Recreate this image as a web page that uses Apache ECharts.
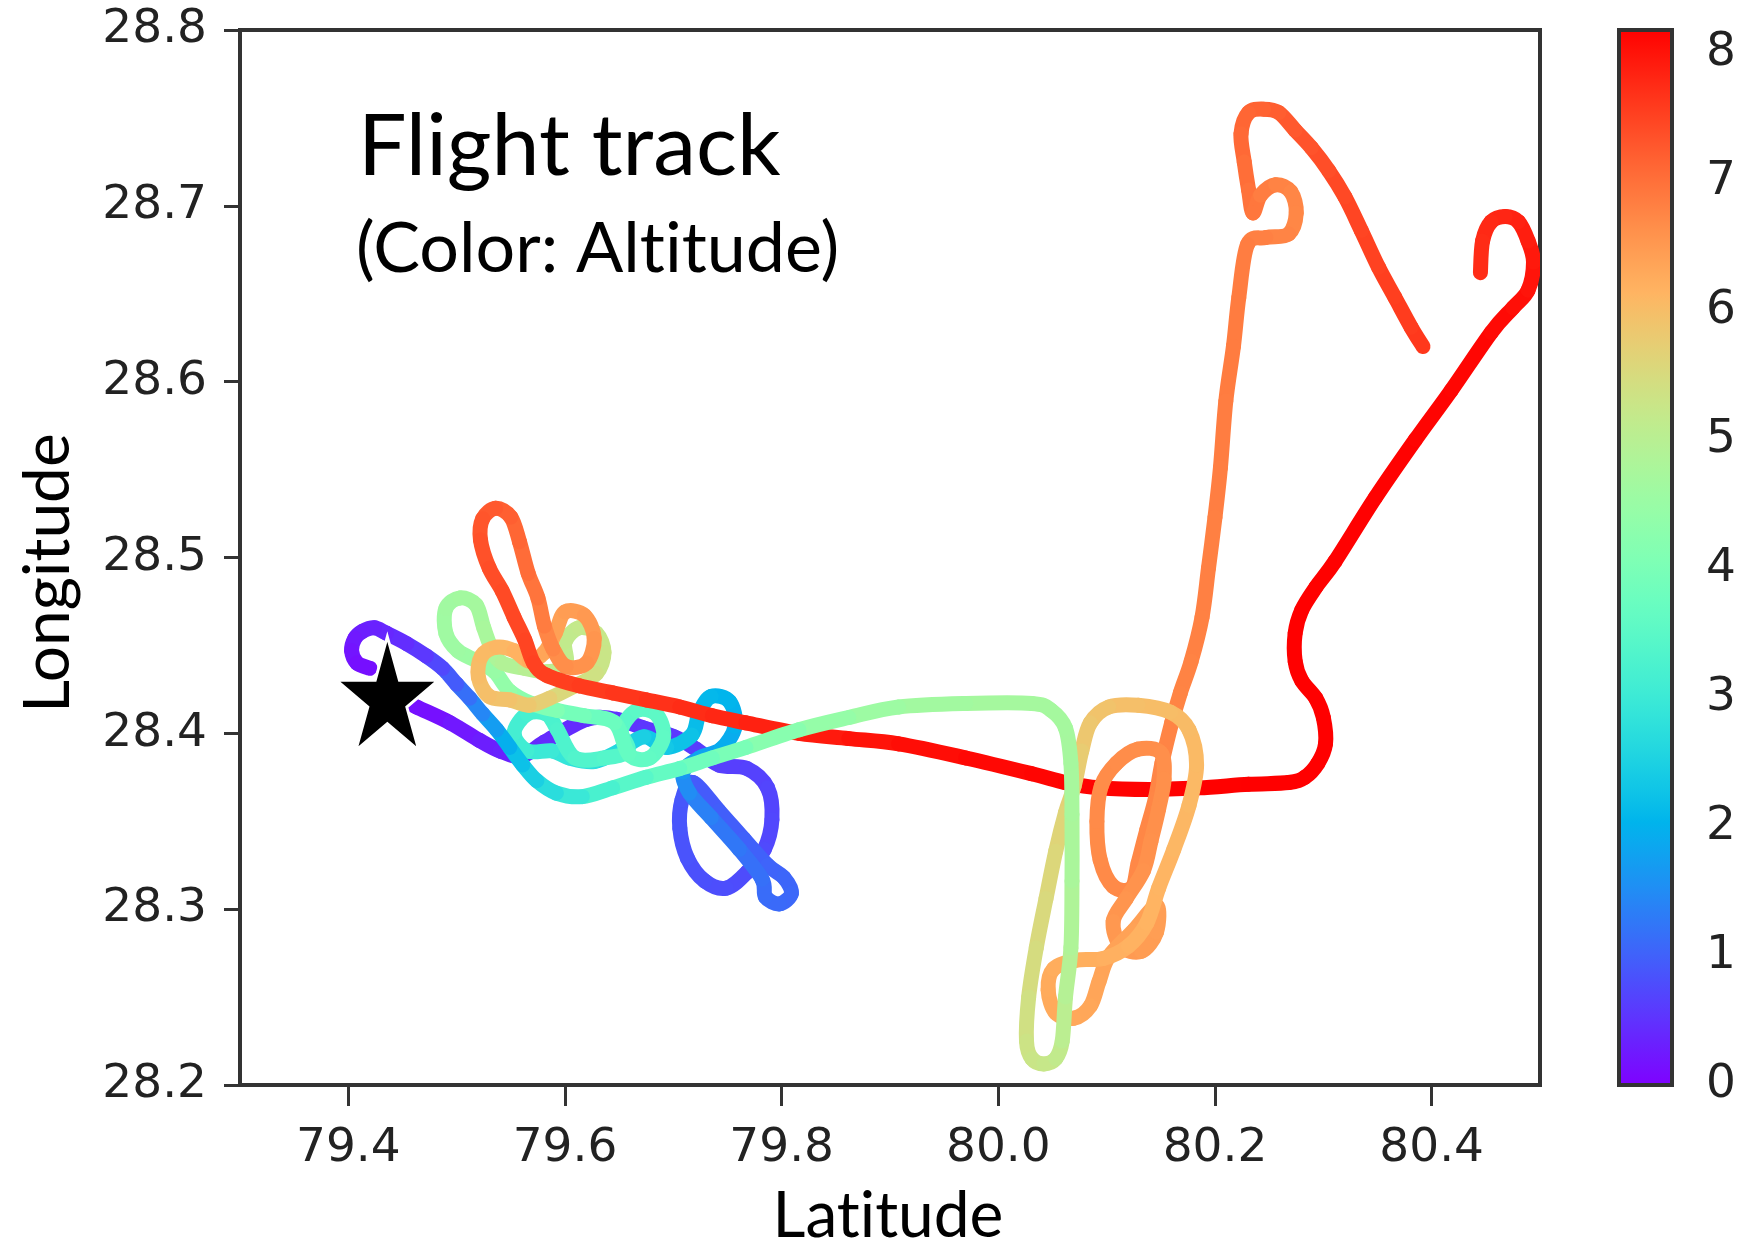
<!DOCTYPE html>
<html>
<head>
<meta charset="utf-8">
<script src="https://cdn.jsdelivr.net/npm/echarts@6/dist/echarts.min.js"></script>
<style>
  html, body { margin: 0; padding: 0; background: #ffffff; }
  #chart { width: 1744px; height: 1244px; }
</style>
</head>
<body>
<div id="chart"></div>
<script>
// Outbound leg: takeoff, low loops, climbing spirals, eastbound leg at top altitude
const outLon = [79.443,79.463,79.494,79.521,79.540,79.560,79.581,79.620,79.647,79.673,
  79.701,79.721,79.742,79.768,79.787,79.791,79.784,79.768,79.749,79.729,
  79.713,79.706,79.708,79.718,79.742,79.765,79.787,79.802,79.809,79.798,
  79.785,79.782,79.761,79.735,79.715,79.709,79.724,79.744,79.757,79.752,
  79.735,79.724,79.717,79.694,79.673,79.650,79.627,79.604,79.588,79.565,
  79.553,79.565,79.583,79.593,79.609,79.636,79.658,79.652,79.666,79.684,
  79.691,79.678,79.659,79.646,79.618,79.593,79.569,79.549,79.535,79.519,
  79.501,79.490,79.490,79.503,79.518,79.525,79.533,79.542,79.563,79.584,
  79.601,79.600,79.613,79.629,79.636,79.629,79.609,79.586,79.567,79.549,
  79.530,79.520,79.523,79.537,79.553,79.567,79.581,79.591,79.600,79.618,
  79.627,79.620,79.601,79.589,79.581,79.575,79.566,79.558,79.550,79.536,
  79.524,79.522,79.530,79.542,79.553,79.563,79.571,79.583,79.613,79.644,
  79.675,79.706,79.736,79.767,79.816,79.862,79.908,79.970,80.031,80.062,
  80.093,80.139,80.185,80.231,80.268,80.283,80.295,80.302,80.300,80.293,
  80.280,80.274,80.274,80.280,80.293,80.311,80.348,80.385,80.418,80.455,
  80.475,80.489,80.494,80.489,80.480,80.468,80.455,80.447,80.445];
const outLat = [28.421,28.415,28.406,28.396,28.390,28.387,28.395,28.408,28.408,28.403,
  28.398,28.391,28.382,28.380,28.369,28.351,28.334,28.321,28.312,28.316,
  28.329,28.346,28.362,28.372,28.356,28.340,28.325,28.318,28.309,28.303,
  28.307,28.317,28.334,28.352,28.366,28.378,28.386,28.391,28.404,28.418,
  28.421,28.412,28.399,28.392,28.398,28.390,28.384,28.386,28.390,28.390,
  28.400,28.411,28.411,28.402,28.386,28.386,28.390,28.402,28.413,28.411,
  28.398,28.386,28.388,28.406,28.410,28.413,28.417,28.424,28.435,28.441,
  28.447,28.457,28.471,28.477,28.473,28.460,28.447,28.440,28.437,28.435,
  28.439,28.452,28.460,28.457,28.446,28.434,28.427,28.420,28.416,28.419,
  28.421,28.432,28.444,28.449,28.447,28.441,28.446,28.457,28.469,28.467,
  28.454,28.440,28.438,28.448,28.461,28.477,28.491,28.509,28.523,28.528,
  28.522,28.510,28.494,28.481,28.466,28.453,28.440,28.433,28.427,28.423,
  28.419,28.415,28.410,28.406,28.400,28.397,28.394,28.386,28.377,28.372,
  28.369,28.368,28.369,28.371,28.372,28.375,28.383,28.394,28.409,28.420,
  28.430,28.441,28.457,28.470,28.483,28.498,28.534,28.567,28.595,28.628,
  28.642,28.652,28.668,28.680,28.691,28.694,28.691,28.680,28.662];
const outAlt = [0.05,0.12,0.20,0.28,0.33,0.38,0.42,0.47,0.50,0.53,
  0.57,0.60,0.63,0.66,0.70,0.72,0.75,0.78,0.80,0.82,
  0.85,0.87,0.90,0.92,0.97,1.00,1.03,1.06,1.08,1.10,
  1.12,1.15,1.22,1.32,1.45,1.60,1.75,1.88,1.97,2.03,
  2.08,2.13,2.20,2.30,2.40,2.55,2.70,2.85,2.95,3.05,
  3.12,3.18,3.23,3.28,3.33,3.38,3.43,3.47,3.50,3.53,
  3.56,3.60,3.63,3.70,3.85,4.00,4.20,4.35,4.45,4.52,
  4.57,4.60,4.62,4.65,4.68,4.72,4.78,4.85,4.95,5.05,
  5.10,5.13,5.17,5.20,5.25,5.30,5.45,5.65,5.80,5.90,
  5.95,6.00,6.03,6.07,6.12,6.20,6.30,6.38,6.43,6.48,
  6.53,6.58,6.62,6.68,6.80,6.90,7.00,7.08,7.15,7.22,
  7.28,7.32,7.36,7.40,7.43,7.46,7.49,7.52,7.55,7.60,
  7.65,7.70,7.75,7.80,7.88,7.95,8.02,8.08,8.12,8.14,
  8.15,8.16,8.17,8.17,8.18,8.18,8.18,8.18,8.18,8.18,
  8.18,8.18,8.18,8.18,8.17,8.17,8.16,8.15,8.13,8.10,
  8.05,8.00,7.95,7.90,7.85,7.80,7.77,7.74,7.72];

// Return leg: descent from the north-east back to the airfield
const retLon = [80.392,80.381,80.366,80.351,80.335,80.320,80.305,80.289,80.274,80.259,
  80.245,80.231,80.224,80.227,80.231,80.235,80.242,80.256,80.270,80.275,
  80.268,80.247,80.230,80.222,80.217,80.210,80.205,80.200,80.194,80.188,
  80.178,80.168,80.160,80.151,80.145,80.137,80.129,80.123,80.106,80.094,
  80.091,80.095,80.109,80.129,80.150,80.153,80.148,80.141,80.134,80.118,
  80.106,80.113,80.132,80.146,80.146,80.125,80.102,80.093,80.085,80.070,
  80.053,80.046,80.051,80.072,80.097,80.120,80.137,80.148,80.162,80.176,
  80.183,80.176,80.159,80.129,80.102,80.085,80.077,80.070,80.062,80.053,
  80.044,80.035,80.028,80.026,80.031,80.042,80.053,80.059,80.062,80.067,
  80.068,80.068,80.067,80.062,80.049,80.031,79.970,79.908,79.862,79.816,
  79.767,79.736,79.706,79.675,79.644,79.616,79.592,79.574,79.561,79.549,
  79.537,79.524,79.512,79.500,79.487,79.472,79.454,79.435,79.424,79.413,
  79.406,79.403,79.408,79.420];
const retLat = [28.620,28.631,28.648,28.665,28.686,28.705,28.720,28.733,28.743,28.753,
  28.755,28.753,28.741,28.725,28.709,28.696,28.706,28.712,28.708,28.696,
  28.684,28.682,28.678,28.648,28.620,28.589,28.551,28.523,28.494,28.466,
  28.441,28.423,28.406,28.383,28.363,28.345,28.326,28.312,28.313,28.328,
  28.350,28.370,28.383,28.391,28.389,28.374,28.357,28.339,28.322,28.306,
  28.293,28.279,28.276,28.287,28.302,28.288,28.273,28.259,28.245,28.238,
  28.241,28.254,28.266,28.271,28.272,28.279,28.292,28.312,28.334,28.359,
  28.382,28.402,28.412,28.416,28.415,28.406,28.390,28.370,28.355,28.333,
  28.306,28.278,28.250,28.225,28.215,28.212,28.215,28.225,28.250,28.278,
  28.316,28.354,28.383,28.403,28.413,28.417,28.417,28.415,28.409,28.402,
  28.392,28.386,28.380,28.375,28.369,28.364,28.366,28.373,28.382,28.392,
  28.402,28.411,28.420,28.428,28.437,28.444,28.451,28.457,28.460,28.458,
  28.454,28.447,28.440,28.437];
const retAlt = [7.62,7.58,7.55,7.52,7.48,7.45,7.40,7.35,7.28,7.22,
  7.17,7.13,7.10,7.05,7.00,6.95,6.88,6.80,6.75,6.72,
  6.74,6.78,6.82,6.85,6.85,6.85,6.83,6.82,6.80,6.80,
  6.78,6.77,6.76,6.75,6.74,6.73,6.72,6.71,6.70,6.69,
  6.68,6.67,6.66,6.65,6.64,6.63,6.62,6.61,6.60,6.57,
  6.54,6.50,6.47,6.44,6.42,6.40,6.37,6.35,6.33,6.31,
  6.29,6.27,6.25,6.22,6.20,6.17,6.15,6.13,6.10,6.08,
  6.06,6.04,6.02,6.00,5.95,5.88,5.80,5.72,5.66,5.60,
  5.55,5.50,5.43,5.35,5.30,5.25,5.20,5.10,5.00,4.90,
  4.80,4.75,4.72,4.70,4.70,4.70,4.68,4.62,4.50,4.35,
  4.10,3.90,3.75,3.55,3.35,3.10,2.85,2.60,2.35,2.10,
  1.85,1.60,1.30,1.05,0.85,0.65,0.50,0.42,0.38,0.33,
  0.28,0.23,0.18,0.12];

// Airfield marker
const airfield = [79.436, 28.4226];

// Axis ticks and colour scale
const lonTicks = [79.4, 79.6, 79.8, 80.0, 80.2, 80.4];
const latTicks = [28.2, 28.3, 28.4, 28.5, 28.6, 28.7, 28.8];
const altTicks = [0, 1, 2, 3, 4, 5, 6, 7, 8];
const ALT_MIN = 0;
const ALT_MAX = 8.18;

// "rainbow" colour map: red = |2t - 0.5|, green = sin(pi t), blue = cos(pi t / 2)
function rainbow(t) {
  const r = Math.min(1, Math.abs(2 * t - 0.5));
  const g = Math.sin(Math.PI * t);
  const b = Math.cos(Math.PI * t / 2);
  const h = v => Math.round(Math.max(0, Math.min(1, v)) * 255).toString(16).padStart(2, '0');
  return '#' + h(r) + h(g) + h(b);
}
const STOPS = 48;
const rampColors = [];
const rampStops = [];
for (let i = 0; i <= STOPS; i++) {
  const t = i / STOPS;
  rampColors.push(rainbow(t));
  rampStops.push({ offset: t, color: rainbow(t) });
}

// Each fix pair becomes one segment; the neighbouring fixes are carried along
// so the segment can be drawn as a smooth (Catmull-Rom) curve.
// Item layout: [lon1, lat1, altitude, lon2, lat2, lon0, lat0, lon3, lat3]
function toSegments(lon, lat, alt) {
  const n = lon.length;
  const segs = [];
  for (let i = 0; i < n - 1; i++) {
    const p = Math.max(0, i - 1);
    const q = Math.min(n - 1, i + 2);
    segs.push([lon[i], lat[i], (alt[i] + alt[i + 1]) / 2, lon[i + 1], lat[i + 1],
               lon[p], lat[p], lon[q], lat[q]]);
  }
  return segs;
}

const TRACK_WIDTH = 15;
function renderSegment(params, api) {
  const p1 = api.coord([api.value(0), api.value(1)]);
  const p2 = api.coord([api.value(3), api.value(4)]);
  const p0 = api.coord([api.value(5), api.value(6)]);
  const p3 = api.coord([api.value(7), api.value(8)]);
  return {
    type: 'bezierCurve',
    shape: {
      x1: p1[0], y1: p1[1], x2: p2[0], y2: p2[1],
      cpx1: p1[0] + (p2[0] - p0[0]) / 6, cpy1: p1[1] + (p2[1] - p0[1]) / 6,
      cpx2: p2[0] - (p3[0] - p1[0]) / 6, cpy2: p2[1] - (p3[1] - p1[1]) / 6
    },
    style: { stroke: api.visual('color'), lineWidth: TRACK_WIDTH, lineCap: 'round', fill: null }
  };
}

function renderColorbar(params, api) {
  const lo = api.coord([0, ALT_MIN]);
  const hi = api.coord([1, ALT_MAX]);
  return {
    type: 'rect',
    shape: { x: lo[0], y: hi[1], width: hi[0] - lo[0], height: lo[1] - hi[1] },
    style: {
      fill: new echarts.graphic.LinearGradient(0, 1, 0, 0, rampStops),
      stroke: '#333333',
      lineWidth: 4
    }
  };
}

const STAR = 'path://M0,-1L0.2245,-0.309L0.951,-0.309L0.363,0.118L0.588,0.809L0,0.382L-0.588,0.809L-0.363,0.118L-0.951,-0.309L-0.2245,-0.309Z';

const tickFont = { fontFamily: 'DejaVu Sans', fontSize: 47, color: '#222222' };
const titleFont = 'Lato';

const chart = echarts.init(document.getElementById('chart'), null, { renderer: 'canvas' });
chart.setOption({
  animation: false,
  backgroundColor: '#ffffff',
  grid: [
    { left: 240, top: 30, width: 1300, height: 1055, show: true, borderColor: '#333333', borderWidth: 4, backgroundColor: 'transparent' },
    { left: 1619, top: 30, width: 53, height: 1055 }
  ],
  xAxis: [
    {
      gridIndex: 0, type: 'value', min: 79.3, max: 80.5,
      axisLine: { show: false },
      axisTick: { show: true, length: 21, customValues: lonTicks, lineStyle: { color: '#333333', width: 3 } },
      axisLabel: Object.assign({ customValues: lonTicks, margin: 40, formatter: v => v.toFixed(1) }, tickFont),
      splitLine: { show: false }
    },
    { gridIndex: 1, type: 'value', min: 0, max: 1, show: false }
  ],
  yAxis: [
    {
      gridIndex: 0, type: 'value', min: 28.2, max: 28.8,
      axisLine: { show: false },
      axisTick: { show: true, length: 16, customValues: latTicks, lineStyle: { color: '#333333', width: 3 } },
      axisLabel: Object.assign({ customValues: latTicks, margin: 33, formatter: v => v.toFixed(1) }, tickFont),
      splitLine: { show: false }
    },
    {
      gridIndex: 1, type: 'value', min: ALT_MIN, max: ALT_MAX, position: 'right',
      axisLine: { show: false },
      axisTick: { show: true, length: 21, customValues: altTicks, lineStyle: { color: '#333333', width: 3 } },
      axisLabel: Object.assign({ customValues: altTicks, margin: 34, formatter: v => String(v) }, tickFont),
      splitLine: { show: false }
    }
  ],
  visualMap: {
    show: false, type: 'continuous', min: ALT_MIN, max: ALT_MAX,
    dimension: 2, seriesIndex: [0, 1],
    inRange: { color: rampColors }
  },
  series: [
    {
      name: 'Outbound', type: 'custom', xAxisIndex: 0, yAxisIndex: 0, clip: true,
      renderItem: renderSegment, encode: { x: [0, 3], y: [1, 4] },
      data: toSegments(outLon, outLat, outAlt), z: 2
    },
    {
      name: 'Return', type: 'custom', xAxisIndex: 0, yAxisIndex: 0, clip: true,
      renderItem: renderSegment, encode: { x: [0, 3], y: [1, 4] },
      data: toSegments(retLon, retLat, retAlt), z: 3
    },
    {
      name: 'Airfield', type: 'scatter', xAxisIndex: 0, yAxisIndex: 0,
      symbol: STAR, symbolSize: [102, 114], symbolKeepAspect: false,
      itemStyle: { color: '#000000', borderColor: '#ffffff', borderWidth: 3, opacity: 1 },
      data: [airfield], z: 5, silent: true
    },
    {
      name: 'Altitude scale', type: 'custom', xAxisIndex: 1, yAxisIndex: 1,
      renderItem: renderColorbar, data: [[0]], silent: true
    }
  ],
  graphic: [
    { type: 'text', left: 358, top: 104, style: { text: 'Flight track', font: '86px ' + titleFont, fill: '#000000' } },
    { type: 'text', left: 356, top: 214, style: { text: '(Color: Alt\u200Citude)', font: '70px ' + titleFont, fill: '#000000' } },
    { type: 'text', x: 888, y: 1248, style: { text: 'Lat\u200Citude', font: '64px ' + titleFont, fill: '#000000', textAlign: 'center', textVerticalAlign: 'bottom' } },
    { type: 'text', x: 80, y: 573, rotation: Math.PI / 2, style: { text: 'Longitude', font: '64px ' + titleFont, fill: '#000000', textAlign: 'center', textVerticalAlign: 'bottom' } }
  ]
});
</script>
</body>
</html>
